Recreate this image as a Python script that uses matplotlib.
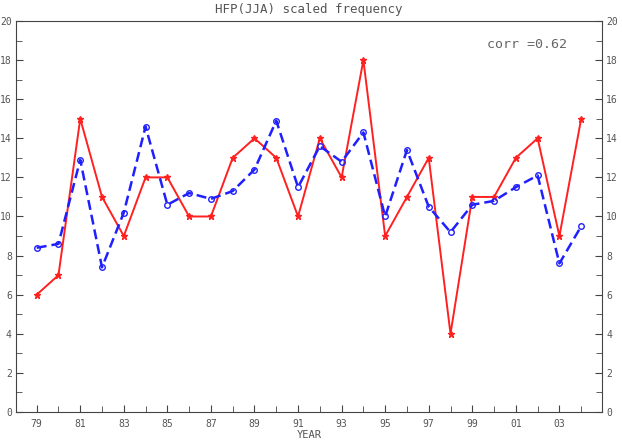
import numpy as np
import matplotlib
matplotlib.use('Agg')
import matplotlib.pyplot as plt
from matplotlib.ticker import MultipleLocator

# data
years = np.arange(1979, 2005)
hfp_obs = [6, 7, 15, 11, 9, 12, 12, 10, 10, 13, 14, 13, 10, 14, 12, 18, 9, 11, 13, 4,
           11, 11, 13, 14, 9, 15]
hfp_model = [8.4, 8.6, 12.9, 7.4, 10.2, 14.6, 10.6, 11.2, 10.9, 11.3, 12.4, 14.9, 11.5,
             13.6, 12.8, 14.3, 10.0, 13.4, 10.5, 9.2, 10.6, 10.8, 11.5, 12.1, 7.6, 9.5]
tick_years = [1979, 1981, 1983, 1985, 1987, 1989, 1991, 1993, 1995, 1997, 1999, 2001, 2003]
tick_labels = ['79', '81', '83', '85', '87', '89', '91', '93', '95', '97', '99', '01', '03']

plt.rcParams['font.family'] = 'DejaVu Sans Mono'
txt = '#555555'
fig = plt.figure(figsize=(6.22, 4.43), dpi=100)
ax = fig.add_axes([0.0257, 0.07, 0.9423, 0.8826])

ax.plot(years, hfp_obs, '-', color='#ff2020', lw=1.4, marker='*', ms=5, mew=1)
ax.plot(years, hfp_model, '--', color='#2020ff', lw=1.8, marker='o', ms=4,
        mfc='none', mew=1, dashes=(4, 2))

ax.set_xlim(1978.05, 2004.96)
ax.set_ylim(0, 20)
ax.set_xticks(tick_years)
ax.set_xticklabels(tick_labels)
ax.xaxis.set_minor_locator(MultipleLocator(1))
ax.yaxis.set_major_locator(MultipleLocator(2))
ax.yaxis.set_minor_locator(MultipleLocator(1))
ax.tick_params(which='both', direction='in', left=True, right=True, top=False,
               labelleft=True, labelright=True, colors='#444444', labelcolor=txt,
               labelsize=7)
ax.tick_params(which='major', length=5)
ax.tick_params(which='minor', length=4)
ax.tick_params(axis='y', pad=3)
ax.tick_params(axis='x', pad=5)
for s in ax.spines.values():
    s.set_color('#444444')

ax.set_title('HFP(JJA) scaled frequency', fontsize=9, color=txt, pad=6)
ax.set_xlabel('YEAR', fontsize=7.5, color=txt, labelpad=1)
ax.text(0.94, 0.94, 'corr =0.62', transform=ax.transAxes, ha='right', va='center',
        fontsize=9.5, color='#666666')

fig.savefig('out.png', dpi=100)
